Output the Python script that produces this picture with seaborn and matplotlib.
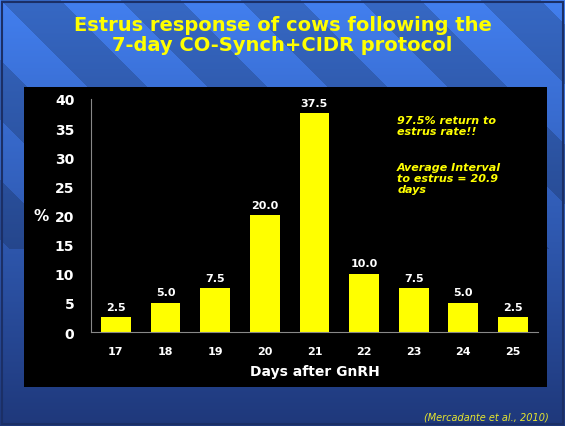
import numpy as np
import pandas as pd
import matplotlib
matplotlib.use("Agg")
import matplotlib.pyplot as plt
import seaborn as sns
from matplotlib.patches import Rectangle

# data
days = ["17", "18", "19", "20", "21", "22", "23", "24", "25"]
pct = [2.5, 5.0, 7.5, 20.0, 37.5, 10.0, 7.5, 5.0, 2.5]
y_ticks = [0, 5, 10, 15, 20, 25, 30, 35, 40]

df = pd.DataFrame({"day": days, "pct": pct})

sns.set_style("dark")
plt.rcParams["font.family"] = ["DejaVu Sans"]

yellow = "#FFFF00"

fig = plt.figure(figsize=(5.65, 4.27), dpi=100)

# slide background: blue gradient with faint diagonal stripes
bg = fig.add_axes([0, 0, 1, 1], zorder=0)
H, W = 427, 565
yy, xx = np.mgrid[0:H, 0:W]
t = yy / H
top = np.array([0.26, 0.50, 0.94])
bot = np.array([0.12, 0.22, 0.48])
img = top[None, None, :] * (1 - t[..., None]) + bot[None, None, :] * t[..., None]
stripe = (np.floor((xx - yy) / 60) % 2 == 0) & (yy < 250)
img[stripe] *= 0.82
bg.imshow(img, aspect="auto", extent=[0, 1, 0, 1], origin="upper")
bg.set_axis_off()
bg.add_patch(Rectangle((0.004, 0.004), 0.992, 0.99, fill=False,
                       edgecolor="#1b2f66", lw=1.5, transform=bg.transAxes))

# black chart panel
fig.patches.append(Rectangle((0.0425, 0.0913), 0.926, 0.7026, facecolor="black",
                             edgecolor="none", transform=fig.transFigure, zorder=1))

ax = fig.add_axes([0.161, 0.220, 0.791, 0.546], zorder=2)
ax.set_facecolor("black")
sns.barplot(data=df, x="day", y="pct", color=yellow, width=0.6,
            saturation=1, ax=ax, edgecolor="none")
ax.bar_label(ax.containers[0], fmt="%.1f", color="white", fontsize=8,
             fontweight="bold", padding=4)

ax.set_ylim(0, 40)
ax.set_xlim(-0.5, len(days) - 0.5)
ax.set_yticks(y_ticks)
ax.set_yticklabels([str(v) for v in y_ticks], fontsize=10, fontweight="bold", color="white")
ax.set_xticks(range(len(days)))
ax.set_xticklabels(days, fontsize=8, fontweight="bold", color="white")
ax.set_xticks(np.arange(-0.5, len(days), 1), minor=True)
ax.tick_params(axis="x", which="major", length=0, pad=10)
ax.tick_params(axis="x", which="minor", length=3, color="#888888", direction="out")
ax.tick_params(axis="y", length=3, color="#888888", direction="out", pad=9)
ax.grid(False)
for s in ["top", "right"]:
    ax.spines[s].set_visible(False)
for s in ["left", "bottom"]:
    ax.spines[s].set_visible(True)
    ax.spines[s].set_color("#888888")
    ax.spines[s].set_linewidth(0.8)

ax.set_xlabel("Days after GnRH", fontsize=10, fontweight="bold", color="white", labelpad=6)
ax.set_ylabel("%", fontsize=11, fontweight="bold", color="white", rotation=0,
              labelpad=10, va="center")

ax.text(0.685, 0.93, "97.5% return to\nestrus rate!!", transform=ax.transAxes,
        color=yellow, fontsize=8, fontweight="bold", style="italic", va="top", linespacing=1.15)
ax.text(0.685, 0.73, "Average Interval\nto estrus = 20.9\ndays", transform=ax.transAxes,
        color=yellow, fontsize=8, fontweight="bold", style="italic", va="top", linespacing=1.15)

fig.text(0.5, 0.963, "Estrus response of cows following the\n7-day CO-Synch+CIDR protocol",
         ha="center", va="top", color=yellow, fontsize=14, fontweight="bold", linespacing=1.1)
fig.text(0.971, 0.01, "(Mercadante et al., 2010)", ha="right", va="bottom",
         color="#e6e62e", fontsize=7, style="italic")

fig.savefig("out.png", dpi=100)
